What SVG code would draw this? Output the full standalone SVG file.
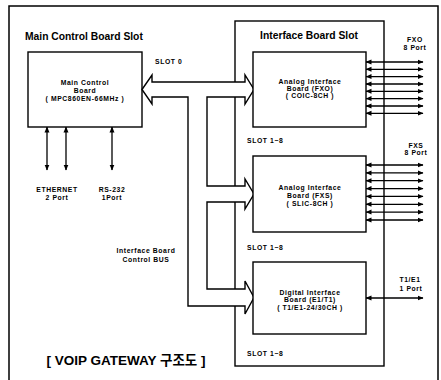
<svg xmlns="http://www.w3.org/2000/svg" width="441" height="380" viewBox="0 0 441 380">
<style>
.b{fill:#fff;stroke:#000;stroke-width:1.4}
.frame{fill:none;stroke:#000;stroke-width:1.5}
.ln{fill:none;stroke:#000;stroke-width:1.3}
.t{font-family:"Liberation Sans",Arial,sans-serif;font-weight:bold;fill:#000}
.s7{font-size:6.8px;letter-spacing:0.6px}
.s9{font-size:10.3px}
.m{text-anchor:middle}
</style>
<defs>
<marker id="ah" viewBox="0 0 6 6" refX="5.5" refY="3" markerWidth="6" markerHeight="6" markerUnits="userSpaceOnUse" orient="auto-start-reverse">
<path d="M0,0.5 L6,3 L0,5.5 Z" fill="#000"/>
</marker>
</defs>
<path class="frame" d="M9,380 L9,6 L438,6 L438,380"/>
<g id="main-slot">
<text class="t s9" x="25" y="39.5">Main Control Board Slot</text>
</g>
<g id="main-board">
<rect class="b" x="28" y="52" width="114" height="75"/>
<text class="t s7 m" x="85" y="84.5">Main Control</text>
<text class="t s7 m" x="85" y="92.5">Board</text>
<text class="t s7 m" x="85" y="100.5">( MPC860EN-66MHz )</text>
</g>
<g id="interface-slot">
<rect class="b" x="235" y="21" width="149" height="345"/>
<text class="t s9 m" x="309" y="39">Interface Board Slot</text>
<text class="t s7" x="247" y="142.5">SLOT 1~8</text>
<text class="t s7" x="247" y="249.5">SLOT 1~8</text>
<text class="t s7" x="247" y="355.5">SLOT 1~8</text>
</g>
<g id="connectors">
<path class="b" d="M142,89.5 L152,75 L152,82 L245,82 L245,75 L254,89.5 L245,104 L245,97 L207,97 L207,186 L245,186 L245,179 L254,194 L245,209 L245,202 L207,202 L207,289 L245,289 L245,281 L254,297.5 L245,314 L245,306 L188,306 L188,97 L152,97 L152,104 Z"/>
<g class="ln" marker-start="url(#ah)" marker-end="url(#ah)">
<line x1="47" y1="127" x2="47" y2="170"/>
<line x1="66" y1="127" x2="66" y2="170"/>
<line x1="112" y1="127" x2="112" y2="170"/>
<line x1="366" y1="62" x2="423" y2="62"/>
<line x1="366" y1="69.3" x2="423" y2="69.3"/>
<line x1="366" y1="76.6" x2="423" y2="76.6"/>
<line x1="366" y1="84" x2="423" y2="84"/>
<line x1="366" y1="91.3" x2="423" y2="91.3"/>
<line x1="366" y1="98.6" x2="423" y2="98.6"/>
<line x1="366" y1="106" x2="423" y2="106"/>
<line x1="366" y1="113.3" x2="423" y2="113.3"/>
<line x1="366" y1="165" x2="423" y2="165"/>
<line x1="366" y1="172.9" x2="423" y2="172.9"/>
<line x1="366" y1="180.7" x2="423" y2="180.7"/>
<line x1="366" y1="188.6" x2="423" y2="188.6"/>
<line x1="366" y1="196.4" x2="423" y2="196.4"/>
<line x1="366" y1="204.3" x2="423" y2="204.3"/>
<line x1="366" y1="212.1" x2="423" y2="212.1"/>
<line x1="366" y1="220" x2="423" y2="220"/>
<line x1="366" y1="298" x2="423" y2="298"/>
</g>
</g>
<g id="fxo-board">
<rect class="b" x="253" y="52" width="113" height="75"/>
<text class="t s7 m" x="310" y="83.5">Analog Interface</text>
<text class="t s7 m" x="310" y="90.5">Board (FXO)</text>
<text class="t s7 m" x="310" y="97.5">( COIC-8CH )</text>
</g>
<g id="fxs-board">
<rect class="b" x="253" y="156" width="113" height="76"/>
<text class="t s7 m" x="310" y="189.5">Analog Interface</text>
<text class="t s7 m" x="310" y="197.5">Board (FXS)</text>
<text class="t s7 m" x="310" y="205.5">( SLIC-8CH )</text>
</g>
<g id="digital-board">
<rect class="b" x="253" y="262" width="113" height="72"/>
<text class="t s7 m" x="310" y="294.5">Digital Interface</text>
<text class="t s7 m" x="310" y="301.5">Board (E1/T1)</text>
<text class="t s7 m" x="310" y="309.5">( T1/E1-24/30CH )</text>
</g>
<g id="labels">
<text class="t s7" x="155" y="63.5">SLOT 0</text>
<text class="t s7 m" x="415" y="41.5">FXO</text>
<text class="t s7 m" x="415" y="49.5">8 Port</text>
<text class="t s7 m" x="416" y="147.5">FXS</text>
<text class="t s7 m" x="416" y="155">8 Port</text>
<text class="t s7 m" x="410" y="281.5">T1/E1</text>
<text class="t s7 m" x="411" y="290.5">1 Port</text>
<text class="t s7 m" x="57" y="191.5">ETHERNET</text>
<text class="t s7 m" x="57" y="200">2 Port</text>
<text class="t s7 m" x="112" y="191.5">RS-232</text>
<text class="t s7 m" x="112" y="200">1Port</text>
<text class="t s7 m" x="146" y="252.5">Interface Board</text>
<text class="t s7 m" x="146" y="261.5">Control BUS</text>
<text class="t m" x="126" y="365" style="font-size:13.5px;font-family:'Liberation Sans','Noto Sans CJK KR',sans-serif">[ VOIP GATEWAY 구조도 ]</text>
</g>
</svg>
